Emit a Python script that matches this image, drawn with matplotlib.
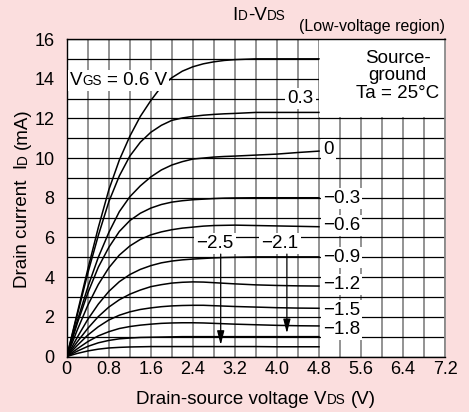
import matplotlib
matplotlib.use('Agg')
import matplotlib.pyplot as plt
from matplotlib.offsetbox import TextArea, HPacker, DrawingArea, AnnotationBbox
from matplotlib.patches import Rectangle
from matplotlib.transforms import IdentityTransform
from matplotlib.ticker import MultipleLocator

plt.rcParams['font.family'] = ['Liberation Sans', 'DejaVu Sans']

############################# data #############################

vds = [0, 0.2, 0.4, 0.6, 0.8, 1.0, 1.2, 1.4, 1.6, 1.8, 2.0, 2.2, 2.4, 2.6, 2.8, 3.0, 3.2, 3.6, 4.0, 4.4, 4.8]

id_p06 = [0, 2.2, 4.4, 6.5, 8.4, 9.9, 11.1, 12.1, 12.9, 13.6, 14.05, 14.38, 14.6, 14.75, 14.85, 14.92, 14.96, 15.0, 15.0, 15.0, 15.0]
id_p03 = [0, 2.1, 4.2, 6.1, 7.8, 9.1, 10.1, 10.8, 11.3, 11.65, 11.9, 12.02, 12.1, 12.16, 12.2, 12.23, 12.25, 12.3, 12.3, 12.3, 12.3]
id_0 = [0, 1.8, 3.5, 5.0, 6.25, 7.3, 8.05, 8.6, 9.05, 9.4, 9.65, 9.82, 9.95, 10.0, 10.05, 10.08, 10.1, 10.15, 10.2, 10.28, 10.35]
id_m03 = [0, 1.67, 3.2, 4.5, 5.5, 6.3, 6.85, 7.22, 7.48, 7.66, 7.78, 7.85, 7.9, 7.93, 7.96, 7.98, 7.99, 8.0, 8.0, 8.0, 8.0]
id_m06 = [0, 1.34, 2.58, 3.63, 4.47, 5.11, 5.57, 5.9, 6.13, 6.28, 6.39, 6.47, 6.52, 6.57, 6.6, 6.61, 6.62, 6.6, 6.58, 6.56, 6.54]
id_m09 = [0, 0.97, 1.87, 2.64, 3.28, 3.77, 4.13, 4.39, 4.58, 4.72, 4.81, 4.87, 4.91, 4.94, 4.97, 4.99, 5.0, 5.02, 5.02, 5.02, 5.02]
id_m12 = [0, 0.74, 1.42, 2.01, 2.49, 2.86, 3.14, 3.35, 3.52, 3.62, 3.7, 3.74, 3.76, 3.75, 3.72, 3.69, 3.66, 3.61, 3.58, 3.56, 3.55]
id_m15 = [0, 0.56, 1.08, 1.5, 1.84, 2.08, 2.25, 2.37, 2.45, 2.51, 2.55, 2.57, 2.58, 2.58, 2.56, 2.54, 2.52, 2.49, 2.46, 2.44, 2.43]
id_m18 = [0, 0.39, 0.75, 1.04, 1.25, 1.41, 1.51, 1.58, 1.63, 1.67, 1.69, 1.7, 1.7, 1.69, 1.67, 1.65, 1.63, 1.6, 1.57, 1.55, 1.54]
id_m21 = [0, 0.27, 0.51, 0.69, 0.81, 0.89, 0.93, 0.96, 0.97, 0.98, 0.99, 1.0, 1.0, 1.0, 1.0, 1.0, 1.0, 1.0, 1.0, 1.0, 1.0]
id_m25 = [0, 0.155, 0.28, 0.37, 0.43, 0.46, 0.48, 0.49, 0.5, 0.5, 0.5, 0.5, 0.5, 0.5, 0.5, 0.5, 0.5, 0.5, 0.49, 0.49, 0.49]

curves = [id_p06, id_p03, id_0, id_m03, id_m06, id_m09, id_m12, id_m15, id_m18, id_m21, id_m25]

right_labels = ['\u22120.3', '\u22120.6', '\u22120.9', '\u22121.2', '\u22121.5', '\u22121.8']
arrow_labels = ['\u22122.5', '\u22122.1']

xticks = [0, 0.8, 1.6, 2.4, 3.2, 4.0, 4.8, 5.6, 6.4, 7.2]
xticklabels = ['0', '0.8', '1.6', '2.4', '3.2', '4.0', '4.8', '5.6', '6.4', '7.2']
yticks = [0, 2, 4, 6, 8, 10, 12, 14, 16]

############################# figure ##################################

BG = '#fbdede'
W, H = 469, 412
FS = 13.5
FS_TICK = 13
FS_SMALL = 9.8

fig = plt.figure(figsize=(W / 100, H / 100), dpi=100, facecolor=BG)
ax = fig.add_axes([66.8 / W, (H - 356.5) / H, (445 - 66.8) / W, (356.5 - 39) / H])
ax.set_facecolor('white')

ax.set_xlim(0, 7.2)
ax.set_ylim(0, 16)
ax.set_xticks(xticks)
ax.set_xticklabels(xticklabels)
ax.set_yticks(yticks)
ax.xaxis.set_minor_locator(MultipleLocator(0.4))
ax.yaxis.set_minor_locator(MultipleLocator(1))
ax.tick_params(which='both', length=0)
ax.tick_params(axis='x', labelsize=FS_TICK, pad=3)
ax.tick_params(axis='y', labelsize=FS_TICK, pad=9)
ax.set_axisbelow(True)
ax.grid(which='both', axis='x', color='#8a8a8a', lw=1.3)
ax.grid(which='both', axis='y', color='black', lw=0.9)
for s in ['left', 'bottom', 'top']:
    ax.spines[s].set_color('black')
    ax.spines[s].set_linewidth(1.0)
ax.spines['right'].set_color('#8a8a8a')
ax.spines['right'].set_linewidth(1.3)

# white block behind the conditions text
ax.add_patch(Rectangle((4.81, 12.06), 7.2 - 4.81, 16 - 12.06, fc='white', ec='none', zorder=1.5))
ax.text(6.3, 14.15, 'Source-\nground\nTa = 25\u00b0C', fontsize=FS, ha='center', va='center',
        multialignment='center', linespacing=1.05, zorder=3)

for c in curves:
    ax.plot(vds, c, color='black', lw=1.1, zorder=2)

box = dict(fc='white', ec='none', pad=1.5)

# curve labels on the right end
right_y = [7.97, 6.59, 4.98, 3.65, 2.34, 1.37]
for lab, yy in zip(right_labels, right_y):
    ax.text(4.87, yy, lab, fontsize=FS, ha='left', va='center', bbox=box, zorder=4)
ax.text(4.45, 13.0, '0.3', fontsize=FS, ha='center', va='center', bbox=box, zorder=4)
ax.text(4.88, 10.45, '0', fontsize=FS, ha='left', va='center', bbox=box, zorder=4)

# labels with arrows
for lab, xl, xa, tip in zip(arrow_labels, [2.82, 4.06], [2.93, 4.19], [0.58, 1.17]):
    ax.text(xl, 5.7, lab, fontsize=FS, ha='center', va='center', bbox=box, zorder=4)
    ax.annotate('', xy=(xa, tip), xytext=(xa, 5.16),
                arrowprops=dict(arrowstyle='-|>,head_length=0.7,head_width=0.18', color='black',
                                lw=0.9, mutation_scale=12, shrinkA=0, shrinkB=0), zorder=4)


def rich_box(parts):
    kids = []
    for s, size, gap in parts:
        if gap:
            kids.append(DrawingArea(gap, 1))
        kids.append(TextArea(s, textprops=dict(fontsize=size, color='black')))
    return HPacker(children=kids, align='baseline', pad=0, sep=0)


# VGS label
vgs = rich_box([('V', FS, 0), ('GS', FS_SMALL, 0), ('= 0.6 V', FS, 3.7)])
ab = AnnotationBbox(vgs, (0.06, 13.92), xycoords='data', box_alignment=(0, 0.5), frameon=True,
                    pad=0.15, bboxprops=dict(fc='white', ec='none'), zorder=4)
ax.add_artist(ab)

# title
title = rich_box([('I', FS, 0), ('D', FS_SMALL, 0), ('-V', FS, 0), ('DS', FS_SMALL, 0)])
ab = AnnotationBbox(title, (259 / W, (H - 16) / H), xycoords='figure fraction',
                    box_alignment=(0.5, 0.5), frameon=False)
fig.add_artist(ab)
fig.text(445 / W, (H - 31) / H, '(Low-voltage region)', fontsize=11.5, ha='right', va='baseline')

# x label
xl = rich_box([('Drain-source voltage V', FS, 0), ('DS', FS_SMALL, 0), ('(V)', FS, 3.7)])
ab = AnnotationBbox(xl, (256 / W, (H - 400) / H), xycoords='figure fraction',
                    box_alignment=(0.5, 0.5), frameon=False)
fig.add_artist(ab)

# y label, rotated, built from pieces
renderer = fig.canvas.get_renderer()
parts = [('Drain current  I', FS, 0), ('D', FS_SMALL, 0), ('(mA)', FS, 5)]
items = []
pos = 0
for s, size, gap in parts:
    pos += gap
    t = fig.text(0, 0, s, fontsize=size, rotation=90, rotation_mode='anchor', ha='left',
                 va='baseline', transform=IdentityTransform())
    items.append((t, pos))
    pos += t.get_window_extent(renderer).height
y0 = (H - 198.5) - pos / 2
for t, p in items:
    t.set_position((27, y0 + p))

fig.savefig('out.png', dpi=100, facecolor=BG)
